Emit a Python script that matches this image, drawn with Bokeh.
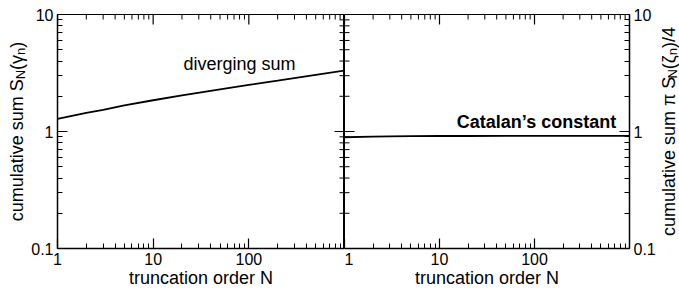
import math
from bokeh.plotting import figure
from bokeh.layouts import row
from bokeh.models import FixedTicker, Label, Range1d
from bokeh.core.properties import value
from bokeh.embed import file_html
from bokeh.resources import INLINE

# ---- data ----
N_left = [1, 2, 3, 5, 10, 20, 50, 100, 200, 500, 1000]
S_gamma = [1.28, 1.44, 1.53, 1.67, 1.85, 2.04, 2.29, 2.50, 2.72, 3.05, 3.32]
N_right = [1, 2, 3, 5, 10, 20, 50, 100, 1000]
S_zeta = [0.893, 0.905, 0.910, 0.913, 0.915, 0.9155, 0.916, 0.916, 0.916]

x_major = [1, 10, 100]
x_labels = ["1", "10", "100"]
x_minor = [2, 3, 4, 5, 6, 7, 8, 9, 20, 30, 40, 50, 60, 70, 80, 90,
           200, 300, 400, 500, 600, 700, 800, 900]
y_major = [0.1, 1, 10]
y_labels = ["0.1", "1", "10"]
y_minor = [0.2, 0.3, 0.4, 0.5, 0.6, 0.7, 0.8, 0.9, 2, 3, 4, 5, 6, 7, 8, 9]

x_axis_title = "truncation order N"
left_title = [("cumulative sum S", False), ("N", True), ("(γ", False), ("n", True), (")", False)]
right_title = [("cumulative sum π S", False), ("N", True), ("(ζ", False), ("n", True), (")/4", False)]
note_left = "diverging sum"
note_right = "Catalan’s constant"

FONT = "Liberation Sans"
TICK_FS = 16
LAB_FS = 18
FRAME_H = 234
MB_TOP = 14
X0, X1, Y0, Y1 = 1, 1000, 0.1, 10
MAJ_LEN, MIN_LEN = 10, 5

W_TABLE = {'c': .5, 'u': .556, 'm': .833, 'l': .222, 'a': .556, 't': .278, 'i': .222,
           'v': .5, 'e': .556, ' ': .278, 's': .5, 'S': .667, 'N': .722, '(': .333,
           ')': .333, 'n': .556, 'γ': .5, 'ζ': .45, 'π': .58, '/': .278, '4': .556}


def tw(s, size):
    return sum(W_TABLE.get(ch, .556) for ch in s) * size


def style_axis(ax, kind):
    if kind == "x":
        ax.ticker = FixedTicker(ticks=x_major, minor_ticks=x_minor)
        ax.major_label_overrides = {t: l for t, l in zip(x_major, x_labels)}
    else:
        ax.ticker = FixedTicker(ticks=y_major, minor_ticks=y_minor)
        ax.major_label_overrides = {t: l for t, l in zip(y_major, y_labels)}
    ax.major_tick_in = MAJ_LEN
    ax.major_tick_out = 0
    ax.minor_tick_in = MIN_LEN
    ax.minor_tick_out = 0
    ax.axis_line_color = "black"
    ax.axis_line_width = 1.5
    ax.major_tick_line_color = "black"
    ax.minor_tick_line_color = "black"
    ax.major_tick_line_width = 1.2
    ax.minor_tick_line_width = 1
    ax.major_label_text_font = FONT
    ax.major_label_text_font_size = f"{TICK_FS}px"
    ax.major_label_text_color = "black"
    ax.major_label_standoff = 4


def make_fig(frame_w, y_loc, mb_left, mb_right):
    p = figure(frame_width=frame_w, frame_height=FRAME_H, title=None,
               x_axis_type="log", y_axis_type="log",
               x_range=Range1d(X0, X1), y_range=Range1d(Y0, Y1),
               y_axis_location=y_loc,
               output_backend="svg", toolbar_location=None,
               min_border_left=mb_left, min_border_right=mb_right,
               min_border_top=MB_TOP, min_border_bottom=40)
    p.xgrid.visible = False
    p.ygrid.visible = False
    p.outline_line_color = "black"
    p.outline_line_width = 1
    p.background_fill_color = "white"
    p.border_fill_color = "white"
    xa = p.xaxis[0]
    style_axis(xa, "x")
    xa.axis_label = x_axis_title
    xa.axis_label_text_font = FONT
    xa.axis_label_text_font_size = f"{LAB_FS}px"
    xa.axis_label_text_font_style = "normal"
    xa.axis_label_text_color = "black"
    xa.axis_label_standoff = 0
    style_axis(p.yaxis[0], "y")
    return p


def inner_ticks(p, frame_w, side_x):
    """Tick marks on the top edge and on one vertical edge, derived from the tick lists."""
    ppd_x = frame_w / 3.0
    ppd_y = FRAME_H / 2.0
    ly = math.log10(Y1)
    xs = x_major + x_minor
    lens = [MAJ_LEN] * len(x_major) + [MIN_LEN] * len(x_minor)
    p.segment(x0=xs, y0=[Y1] * len(xs), x1=xs,
              y1=[10 ** (ly - L / ppd_y) for L in lens],
              line_color="black", line_width=[1.2 if L == MAJ_LEN else 1 for L in lens])
    ys = y_major + y_minor
    lens = [MAJ_LEN] * len(y_major) + [MIN_LEN] * len(y_minor)
    if side_x == "right":
        lx = math.log10(X1)
        x1s = [10 ** (lx - L / ppd_x) for L in lens]
        x0s = [X1] * len(ys)
    else:
        lx = math.log10(X0)
        x1s = [10 ** (lx + L / ppd_x) for L in lens]
        x0s = [X0] * len(ys)
    p.segment(x0=x0s, y0=ys, x1=x1s, y1=ys, line_color="black",
              line_width=[1.2 if L == MAJ_LEN else 1 for L in lens])


def label_fig(width, pieces, base_x, F):
    q = figure(frame_width=width, frame_height=FRAME_H, title=None,
               x_range=Range1d(0, width), y_range=Range1d(0, FRAME_H),
               x_axis_location=None, y_axis_location=None,
               output_backend="svg", toolbar_location=None,
               min_border_left=0, min_border_right=0,
               min_border_top=MB_TOP, min_border_bottom=40)
    q.xgrid.visible = False
    q.ygrid.visible = False
    q.outline_line_color = None
    q.background_fill_color = "white"
    q.border_fill_color = "white"
    Fs = round(F * 0.7)
    total = sum(tw(t, Fs if sub else F) for t, sub in pieces)
    pos = FRAME_H / 2.0 - total / 2.0
    for t, sub in pieces:
        size = Fs if sub else F
        xpx = base_x + (0.22 * F if sub else 0)
        q.text(x=[xpx], y=[pos], text=[t], angle=math.pi / 2,
               text_align="left", text_baseline="alphabetic",
               text_font=value(FONT), text_font_size=value(f"{size}px"), text_color="black")
        pos += tw(t, size)
    return q


# left label strip + left panel
lab_l = label_fig(28, left_title, 16, LAB_FS)
pl = make_fig(287, "left", 28, 0)
inner_ticks(pl, 287, "right")
pl.line(N_left, S_gamma, line_color="black", line_width=1.8)
pl.add_layout(Label(x=80, y=3.8, text=note_left, text_align="center", text_baseline="middle",
                    text_font=FONT, text_font_size=f"{LAB_FS}px", text_color="black"))

# right panel + right label strip
pr = make_fig(285, "right", 0, 26)
inner_ticks(pr, 285, "left")
pr.line(N_right, S_zeta, line_color="black", line_width=1.8)
pr.add_layout(Label(x=105, y=1.2, text=note_right, text_align="center", text_baseline="middle",
                    text_font=FONT, text_font_size=f"{LAB_FS}px", text_font_style="bold",
                    text_color="black"))
lab_r = label_fig(21, right_title, 10, LAB_FS)

layout = row(lab_l, pl, pr, lab_r, spacing=0)
open("out.html", "w").write(file_html(layout, INLINE))
